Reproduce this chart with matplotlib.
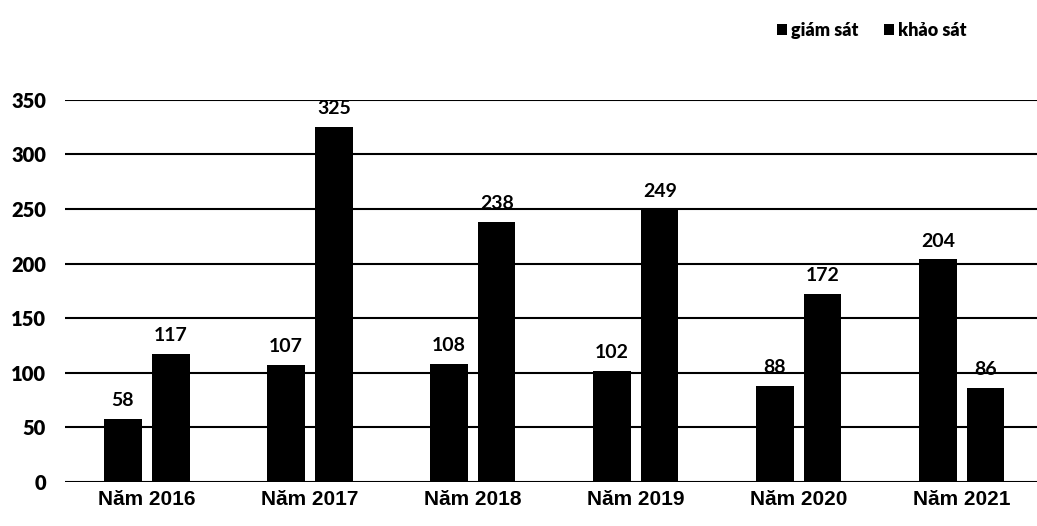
import numpy as np
import matplotlib.pyplot as plt

# datos del grafico
categorias = ["Năm 2016", "Năm 2017", "Năm 2018", "Năm 2019", "Năm 2020", "Năm 2021"]
giam_sat = [58, 107, 108, 102, 88, 204]
khao_sat = [117, 325, 238, 249, 172, 86]
y_ticks = [0, 50, 100, 150, 200, 250, 300, 350]

fig = plt.figure(figsize=(10.37, 5.26), dpi=100)
ax = fig.add_axes([0.063, 0.084, 0.943, 0.726])

x = np.arange(len(categorias))
ancho = 0.23
off = 0.147

b1 = ax.bar(x - off, giam_sat, ancho, color='black', label='giám sát', zorder=3)
b2 = ax.bar(x + off, khao_sat, ancho, color='black', label='khảo sát', zorder=3)

for barras in (b1, b2):
    for b in barras:
        h = b.get_height()
        ax.annotate(f'{h:.0f}', (b.get_x() + b.get_width() / 2, h),
                    xytext=(0, 7), textcoords='offset points',
                    ha='center', va='bottom', fontsize=14,
                    family='Lato', fontweight='bold')

ax.set_xlim(-0.5, len(categorias) - 0.5)
ax.set_ylim(0, 350)
ax.set_yticks(y_ticks)
ax.set_xticks(x)
ax.set_xticklabels(categorias, fontsize=15, family='Liberation Sans', fontweight='bold')
for t in ax.get_yticklabels():
    t.set_fontsize(14.5)
    t.set_family('Lato')
    t.set_fontweight('heavy')

ax.grid(axis='y', color='black', linewidth=1.5, zorder=0)
ax.tick_params(axis='y', length=0, pad=14)
ax.tick_params(axis='x', length=0, pad=6)
for s in ax.spines.values():
    s.set_visible(False)

fig.legend(loc='upper right', bbox_to_anchor=(0.948, 0.99), ncol=2, frameon=False,
           prop={'family': 'Lato', 'weight': 'heavy', 'size': 13},
           handlelength=0.55, handleheight=0.55, handletextpad=0.25, columnspacing=1.4)

fig.savefig('out.png', dpi=100, facecolor='white')
